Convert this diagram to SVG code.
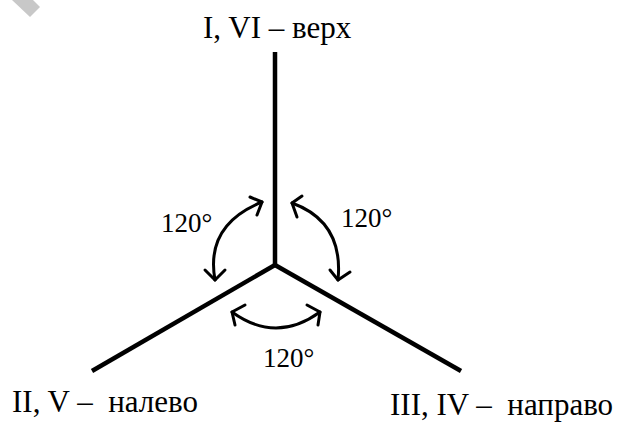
<svg xmlns="http://www.w3.org/2000/svg" width="618" height="423" viewBox="0 0 618 423">
<style>
text{font-family:"Liberation Serif","Times New Roman",serif;fill:#000}
.lbl{font-size:31px}
.ang{font-size:27px}
.axis{stroke:#000;stroke-width:4.5;stroke-linecap:butt;fill:none}
.arc{stroke:#000;stroke-width:3;fill:none;stroke-linecap:round;stroke-linejoin:round}
</style>
<rect width="618" height="423" fill="#fff"/>
<polygon points="12,0 33,0 40,7 30,17" fill="#c8c8c8"/>
<g id="connectors">
<line class="axis" x1="275" y1="52" x2="275" y2="266"/>
<line class="axis" x1="275" y1="265" x2="92" y2="371"/>
<line class="axis" x1="275" y1="265" x2="461" y2="371"/>
<path class="arc" d="M262,202 Q205,225 215,280"/>
<path class="arc" d="M250,197 L262,202 L257,215"/>
<path class="arc" d="M205,270 L215,280 L225,270"/>
<path class="arc" d="M292,203 C325,215 342,240 338,280"/>
<path class="arc" d="M302,196 L292,203 L297,217"/>
<path class="arc" d="M330,270 L338,280 L350,272"/>
<path class="arc" d="M232,312 Q276,344 320,312"/>
<path class="arc" d="M245,305 L232,312 L235,325"/>
<path class="arc" d="M307,305 L320,312 L318,325"/>
</g>
<g id="top"><text class="lbl" x="203" y="38">I, VI – верх</text></g>
<g id="left"><text class="lbl" x="12" y="412" xml:space="preserve">II, V –  налево</text></g>
<g id="right"><text class="lbl" x="390" y="415" xml:space="preserve">III, IV –  направо</text></g>
<g id="angle-left"><text class="ang" x="161" y="232">120°</text></g>
<g id="angle-right"><text class="ang" x="341" y="227">120°</text></g>
<g id="angle-bottom"><text class="ang" x="263" y="367">120°</text></g>
</svg>
